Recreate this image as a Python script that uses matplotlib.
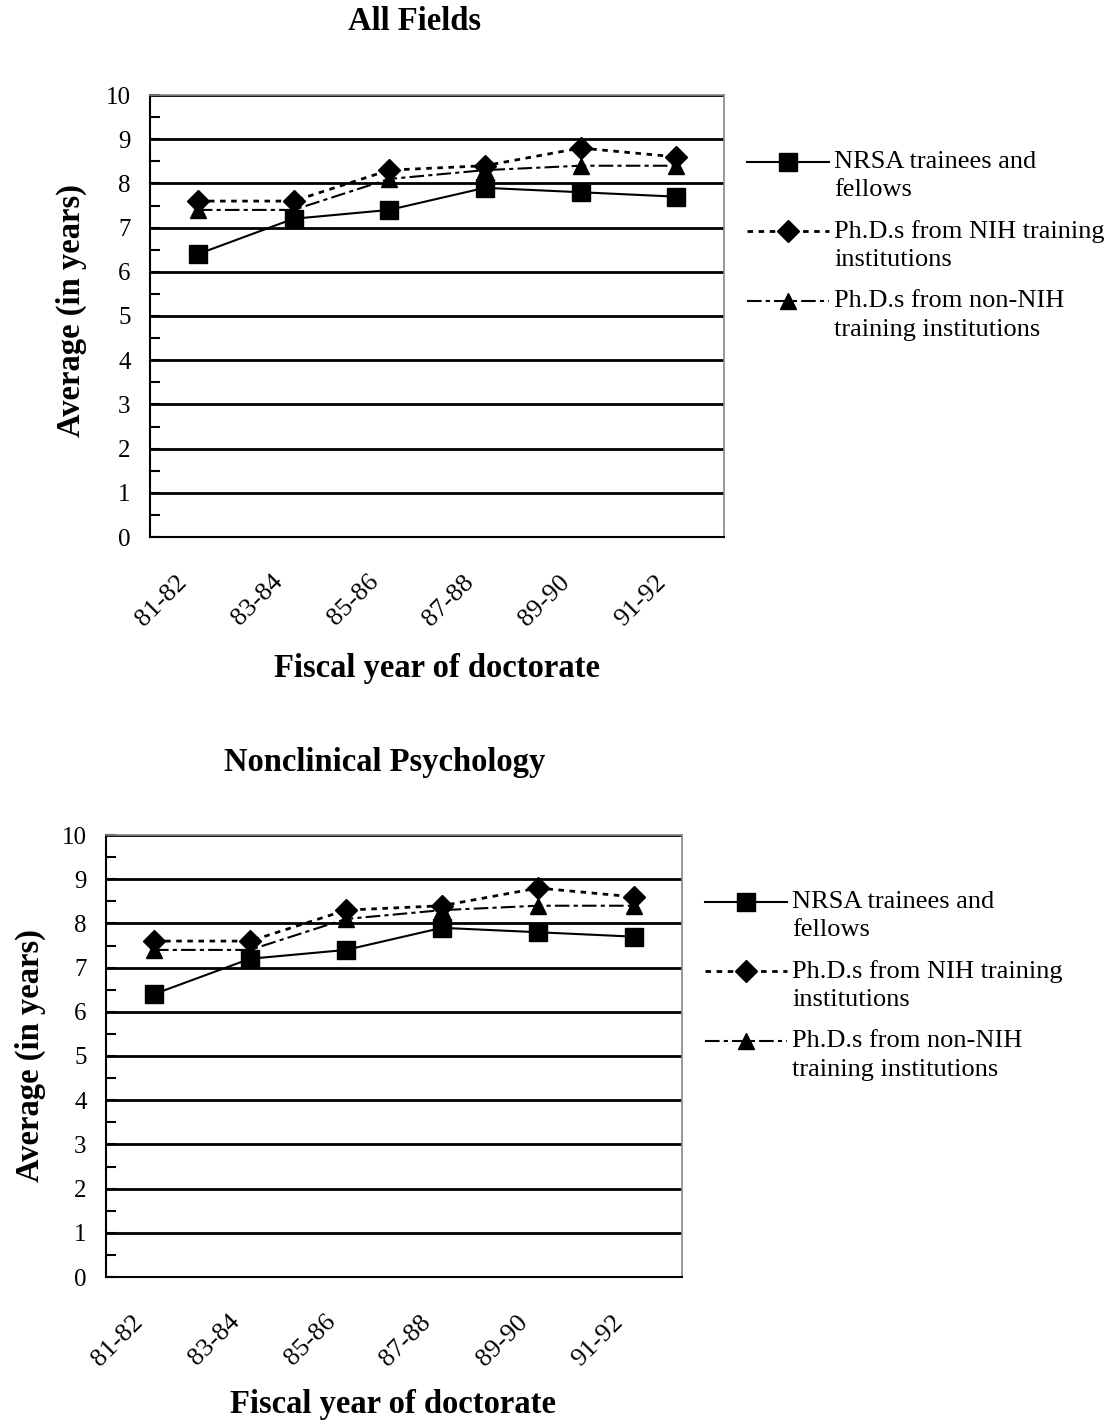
import numpy as np
import matplotlib
matplotlib.use('Agg')
import matplotlib.pyplot as plt
from matplotlib.ticker import MultipleLocator
from matplotlib.transforms import ScaledTranslation

plt.rcParams['font.family'] = ['Liberation Serif', 'DejaVu Serif']

# Datos
periods = ['81-82', '83-84', '85-86', '87-88', '89-90', '91-92']
nrsa = [6.4, 7.2, 7.4, 7.9, 7.8, 7.7]
nih = [7.6, 7.6, 8.3, 8.4, 8.8, 8.6]
non_nih = [7.4, 7.4, 8.1, 8.3, 8.4, 8.4]
labels = ['NRSA trainees and\nfellows',
          'Ph.D.s from NIH training\ninstitutions',
          'Ph.D.s from non-NIH\ntraining institutions']
titles = ['All Fields', 'Nonclinical Psychology']

W, H = 1110, 1424
fig = plt.figure(figsize=(W / 100, H / 100), dpi=100)


def panel(rect, title, title_xy, ylab_xy, xlab_xy):
    l, t, r, b = rect
    ax = fig.add_axes([l / W, 1 - b / H, (r - l) / W, (b - t) / H])
    x = np.arange(len(periods))
    ax.plot(x, nrsa, color='black', lw=1.5, marker='s', ms=13,
            label=labels[0])
    ax.plot(x, nih, color='black', lw=2, ls=(0, (2, 2)), marker='D',
            ms=11, label=labels[1])
    ax.plot(x, non_nih, color='black', lw=1.5, ls=(0, (7, 2, 2, 2)),
            marker='^', ms=11, label=labels[2])
    ax.set_xlim(-0.5, len(periods) - 0.5)
    ax.set_ylim(0, 10)
    ax.yaxis.set_major_locator(MultipleLocator(1))
    ax.yaxis.set_minor_locator(MultipleLocator(0.5))
    ax.grid(axis='y', color='black', lw=2)
    ax.set_axisbelow(True)
    ax.set_xticks(x)
    ax.tick_params(axis='x', length=0, pad=30)
    ax.tick_params(axis='y', which='both', direction='in', length=7,
                   width=1.5, labelsize=18, pad=14)
    ax.set_xticklabels(periods, rotation=45, ha='right', va='center',
                       rotation_mode='anchor', fontsize=19)
    # correr las etiquetas un poco a la izquierda (despues de tick_params)
    off = ScaledTranslation(-0.14, 0, fig.dpi_scale_trans)
    for lab in ax.get_xticklabels():
        lab.set_transform(lab.get_transform() + off)
    for s in ['top', 'right']:
        ax.spines[s].set_color('#888888')
        ax.spines[s].set_linewidth(1.2)
    for s in ['left', 'bottom']:
        ax.spines[s].set_color('black')
        ax.spines[s].set_linewidth(1.5)
    leg = ax.legend(loc='upper left', bbox_to_anchor=(1.04, 0.874),
                    frameon=False, fontsize=19, handlelength=3.1,
                    handleheight=1.2, numpoints=1, labelspacing=0.71,
                    handletextpad=0.2, borderaxespad=0, borderpad=0)
    for t_ in leg.get_texts():
        t_.set_linespacing(1.38)
    # marca alineada con la primera linea del texto
    for col in leg._legend_handle_box.get_children():
        for item in col.get_children():
            item.align = 'top'
    fig.text(title_xy[0] / W, 1 - title_xy[1] / H, title, fontsize=23.5,
             fontweight='bold', ha='center', va='center')
    fig.text(ylab_xy[0] / W, 1 - ylab_xy[1] / H, 'Average (in years)',
             fontsize=23.5, fontweight='bold', rotation=90, ha='center',
             va='center')
    fig.text(xlab_xy[0] / W, 1 - xlab_xy[1] / H, 'Fiscal year of doctorate',
             fontsize=23.5, fontweight='bold', ha='center', va='center')
    return ax


panel((150, 95, 724, 537), titles[0], (415, 22), (71, 311), (437, 668))
panel((106, 835, 682, 1277), titles[1], (385, 763), (30, 1056), (393, 1404))

fig.savefig('out.png', dpi=100)
